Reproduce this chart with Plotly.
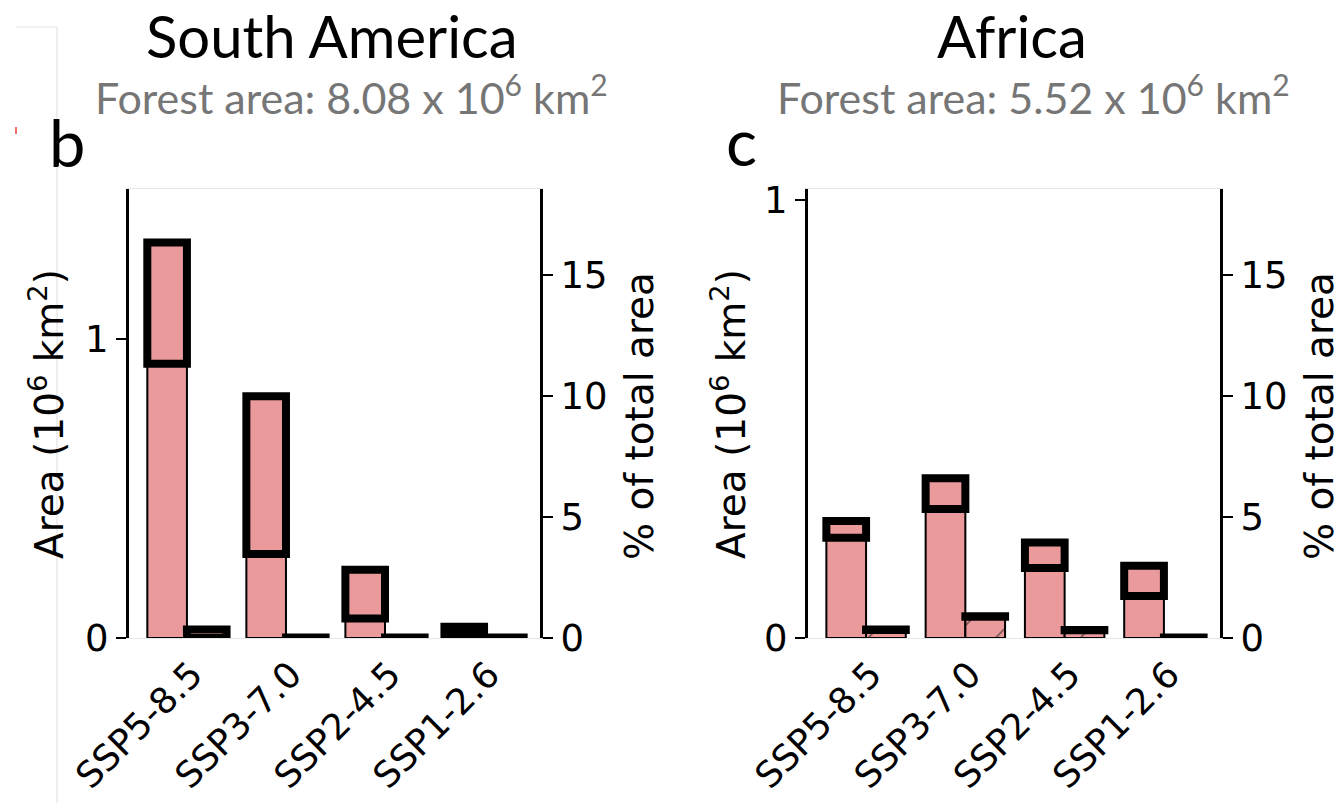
import plotly.graph_objects as go

# ---------------------------------------------------------------- data
scenarios = ["SSP5-8.5", "SSP3-7.0", "SSP2-4.5", "SSP1-2.6"]

# South America, area in 10^6 km^2
sa_forest_area = 8.08
sa_main = [1.12, 0.54, 0.15, 0.02]
sa_main_low = [0.916, 0.281, 0.065, 0.012]
sa_main_high = [1.321, 0.808, 0.228, 0.038]
sa_second = [0.020, 0.001, 0.001, 0.001]
sa_second_low = [0.000, 0.000, 0.000, 0.000]
sa_second_high = [0.028, 0.002, 0.002, 0.002]

# Africa, area in 10^6 km^2
af_forest_area = 5.52
af_main = [0.248, 0.330, 0.190, 0.130]
af_main_low = [0.229, 0.2945, 0.160, 0.096]
af_main_high = [0.267, 0.3645, 0.218, 0.165]
af_second = [0.017, 0.046, 0.016, 0.001]
af_second_low = [0.0185, 0.0485, 0.0175, 0.000]
af_second_high = [0.0195, 0.0495, 0.0185, 0.001]

# ---------------------------------------------------------------- style
W, H = 1343, 803
PINK = "#EB9A9B"
AX_FONT = dict(family="DejaVu Sans", size=37, color="black")
XT_FONT = dict(family="DejaVu Sans", size=36, color="black")
TITLE_AX_FONT = dict(family="DejaVu Sans", size=39, color="black")
AREA_MAX_SA = 1.5
PCT_MAX = AREA_MAX_SA / sa_forest_area * 100


def fx(px):
    return px / W


def fy(py):
    return 1 - py / H


def add_panel(fig, xa, ya, ya_pct, forest_area, main, lo, hi, second, lo2, hi2):
    fig.add_trace(go.Bar(
        x=scenarios, y=main, xaxis=xa, yaxis=ya, offsetgroup="main",
        marker=dict(color=PINK, line=dict(color="black", width=2)),
        showlegend=False, hoverinfo="skip"))
    fig.add_trace(go.Bar(
        x=scenarios, y=second, xaxis=xa, yaxis=ya, offsetgroup="second",
        marker=dict(color=PINK, line=dict(color="black", width=2),
                    pattern=dict(shape="/", fgcolor="#6b4a4a", bgcolor=PINK,
                                 size=30, solidity=0.05)),
        showlegend=False, hoverinfo="skip"))
    # range boxes drawn with heavy outline
    for low, high, grp in ((lo, hi, "main"), (lo2, hi2, "second")):
        fig.add_trace(go.Bar(
            x=scenarios, y=[h - l for l, h in zip(low, high)], base=low,
            xaxis=xa, yaxis=ya, offsetgroup=grp,
            marker=dict(color=PINK, line=dict(color="black", width=8)),
            showlegend=False, hoverinfo="skip"))
    # share of the total forest area, carried by the right-hand axis
    fig.add_trace(go.Scatter(
        x=scenarios, y=[v / forest_area * 100 for v in main],
        xaxis=xa, yaxis=ya_pct, mode="markers",
        marker=dict(opacity=0), showlegend=False, hoverinfo="skip"))


fig = go.Figure()
add_panel(fig, "x", "y", "y2", sa_forest_area, sa_main, sa_main_low,
          sa_main_high, sa_second, sa_second_low, sa_second_high)
add_panel(fig, "x2", "y3", "y4", af_forest_area, af_main, af_main_low,
          af_main_high, af_second, af_second_low, af_second_high)

ydom = [fy(638), fy(189)]
xcommon = dict(type="category", range=[-0.585, 3.565], showline=True,
               linecolor="#e6e6e6", linewidth=1, mirror=True, ticks="",
               tickangle=-45, tickfont=XT_FONT, ticklabelshift=5,
               showgrid=False, zeroline=False, fixedrange=True,
               automargin=False)
ycommon = dict(showline=True, linecolor="black", linewidth=3, ticks="outside",
               ticklen=10, tickwidth=2, tickcolor="black", tickfont=AX_FONT,
               showgrid=False, zeroline=False, fixedrange=True,
               automargin=False)

fig.update_layout(
    template="none",
    width=W, height=H, autosize=False,
    margin=dict(l=0, r=0, t=0, b=0, pad=0, autoexpand=False),
    paper_bgcolor="white", plot_bgcolor="white",
    barmode="group", bargap=0.2, bargroupgap=0,
    xaxis=dict(domain=[fx(129), fx(540)], anchor="y", **xcommon),
    xaxis2=dict(domain=[fx(808), fx(1220)], anchor="y3", **xcommon),
    yaxis=dict(domain=ydom, anchor="x", range=[0, AREA_MAX_SA],
               tickvals=[0, 1], **ycommon),
    yaxis2=dict(overlaying="y", side="right", anchor="x",
                range=[0, PCT_MAX], tickvals=[0, 5, 10, 15], **ycommon),
    yaxis3=dict(domain=ydom, anchor="x2",
                range=[0, PCT_MAX * af_forest_area / 100],
                tickvals=[0, 1], **ycommon),
    yaxis4=dict(overlaying="y3", side="right", anchor="x2",
                range=[0, PCT_MAX], tickvals=[0, 5, 10, 15], **ycommon),
)

TITLE_FONT = dict(family="Lato", size=58, color="black")
SUB_FONT = dict(family="Lato", size=43, color="#767676")
LETTER_FONT = dict(family="Lato", size=65, color="black")
annotations = [
    dict(text="South America", x=fx(332), y=fy(0), yanchor="top",
         font=TITLE_FONT),
    dict(text="Africa", x=fx(1012), y=fy(0), yanchor="top", font=TITLE_FONT),
    dict(text=f"Forest area: {sa_forest_area:.2f} x 10<sup>6</sup> km<sup>2</sup>",
         x=fx(351), y=fy(94), font=SUB_FONT),
    dict(text=f"Forest area: {af_forest_area:.2f} x 10<sup>6</sup> km<sup>2</sup>",
         x=fx(1033), y=fy(94), font=SUB_FONT),
    dict(text="b", x=fx(67), y=fy(142), font=LETTER_FONT),
    dict(text="c", x=fx(741), y=fy(141), font=LETTER_FONT),
    dict(text="Area (10<sup>6</sup> km<sup>2</sup>)", x=fx(47), y=fy(414),
         textangle=-90, font=TITLE_AX_FONT),
    dict(text="Area (10<sup>6</sup> km<sup>2</sup>)", x=fx(729), y=fy(414),
         textangle=-90, font=TITLE_AX_FONT),
    dict(text="% of total area", x=fx(640), y=fy(416), textangle=-90,
         font=TITLE_AX_FONT),
    dict(text="% of total area", x=fx(1320), y=fy(416), textangle=-90,
         font=TITLE_AX_FONT),
]
for a in annotations:
    a.setdefault("yanchor", "middle")
    a.update(xref="paper", yref="paper", xanchor="center", showarrow=False,
             borderpad=0)
fig.update_layout(annotations=annotations)

# thin frame lines along the left edge of the sheet
fig.update_layout(shapes=[
    dict(type="line", xref="paper", yref="paper", x0=fx(57), x1=fx(57),
         y0=fy(27), y1=fy(803), line=dict(color="#dddddd", width=1)),
    dict(type="line", xref="paper", yref="paper", x0=fx(16), x1=fx(57),
         y0=fy(27), y1=fy(27), line=dict(color="#e6e6e6", width=1)),
    dict(type="line", xref="paper", yref="paper", x0=fx(16), x1=fx(16),
         y0=fy(127), y1=fy(134), line=dict(color="#e8403a", width=1.5)),
])

fig.write_html("out.html", config=dict(displayModeBar=False))
